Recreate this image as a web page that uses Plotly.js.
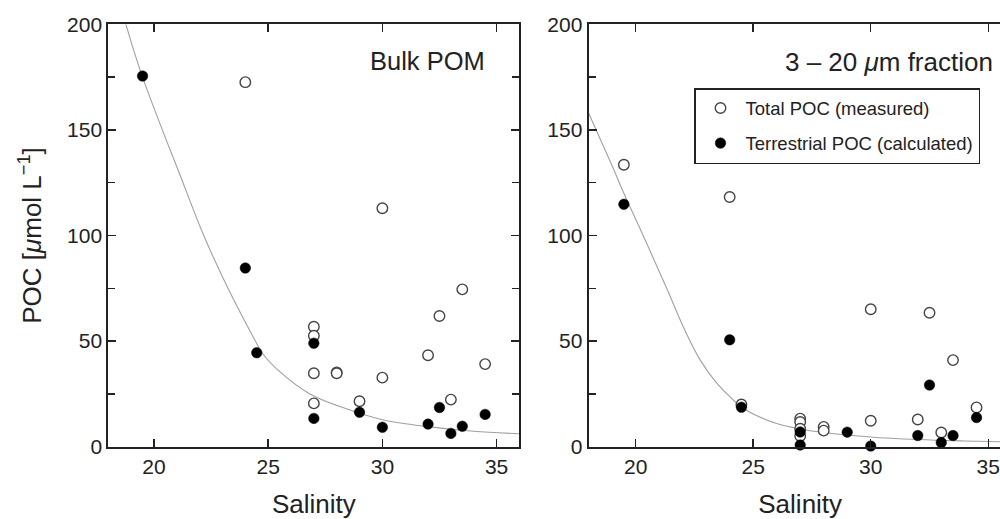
<!DOCTYPE html>
<html>
<head>
<meta charset="utf-8">
<script src="https://cdn.plot.ly/plotly-3.0.1.min.js"></script>
<style>
html,body{margin:0;padding:0;overflow:hidden;background:#fff;}
#chart{width:1014px;height:519px;}
</style>
</head>
<body>
<div id="chart"></div>
<script>
// ---- Data ----
// Left panel: Bulk POM
const bulkTotalSal = [24, 27, 27, 27, 27, 28, 28, 29, 30, 30, 32, 32.5, 33, 33.5, 34.5];
const bulkTotalPOC = [172.6, 56.8, 52.5, 34.8, 20.5, 35.2, 34.8, 21.5, 112.9, 32.7, 43.3, 61.9, 22.3, 74.5, 39.1];
const bulkTerrSal = [19.5, 24, 24.5, 27, 27, 29, 30, 32, 32.5, 33, 33.5, 34.5];
const bulkTerrPOC = [175.5, 84.6, 44.5, 49.0, 13.4, 16.3, 9.2, 10.7, 18.6, 6.3, 9.7, 15.3];
const bulkCurveSal = [18.77, 19.48, 21.27, 22.18, 23.24, 24.44, 24.72, 25.42, 26.83, 28.52, 30, 32, 34, 36];
const bulkCurvePOC = [200, 175.6, 125, 100, 75, 50, 44.6, 36.4, 25, 17.6, 12.8, 9.5, 7.3, 6.1];

// Right panel: 3 - 20 um fraction
const fracTotalSal = [19.5, 24, 24.5, 27, 27, 27, 27, 28, 28, 30, 30, 32, 32.5, 33, 33.5, 34.5];
const fracTotalPOC = [133.5, 118.2, 20.0, 13.3, 11.7, 8.5, 5.1, 9.4, 7.6, 65.1, 12.3, 12.9, 63.4, 6.7, 41.0, 18.6];
const fracTerrSal = [19.5, 24, 24.5, 27, 27, 29, 30, 32, 32.5, 33, 33.5, 34.5];
const fracTerrPOC = [114.8, 50.6, 18.7, 7.0, 0.8, 6.9, 0.3, 5.3, 29.2, 2.0, 5.3, 13.8];
const fracCurveSal = [18, 19, 19.5, 20.32, 21.32, 22.1, 22.75, 23.46, 24.17, 24.5, 25.3, 26.0, 27.0, 28.1, 30, 32, 34, 36];
const fracCurvePOC = [158, 133, 120, 100, 75, 55, 41, 30, 22, 18.8, 13.9, 11, 8.4, 6.6, 4.6, 3.4, 2.7, 2.2];

const xTickVals = [20, 25, 30, 35];
const yTickVals = [0, 50, 100, 150, 200];
const legendNames = ['Total POC (measured)', 'Terrestrial POC (calculated)'];
const panelTitles = ['Bulk POM', '3 \u2013 20 <i>\u03bc</i>m fraction'];

// ---- Layout geometry ----
const W = 1014, H = 519;
const FONT = 'Liberation Sans, Arial, Helvetica, sans-serif';
const yDom = [1 - 446.7 / H, 1 - 24.3 / H];

const curveStyle = {color: '#a0a0a0', width: 1.1, shape: 'spline', smoothing: 1};
const openMarker = {symbol: 'circle', size: 10.5, color: '#ffffff', line: {color: '#444', width: 1.4}};
const fillMarker = {symbol: 'circle', size: 10.5, color: '#000000', line: {color: '#000', width: 0.5}};

const traces = [
  {x: bulkCurveSal, y: bulkCurvePOC, xaxis: 'x', yaxis: 'y', mode: 'lines', line: curveStyle, showlegend: false, hoverinfo: 'skip'},
  {x: bulkTotalSal, y: bulkTotalPOC, xaxis: 'x', yaxis: 'y', mode: 'markers', marker: openMarker, name: legendNames[0], legendgroup: 'a', showlegend: false, cliponaxis: false},
  {x: bulkTerrSal, y: bulkTerrPOC, xaxis: 'x', yaxis: 'y', mode: 'markers', marker: fillMarker, name: legendNames[1], legendgroup: 'b', showlegend: false, cliponaxis: false},
  {x: fracCurveSal, y: fracCurvePOC, xaxis: 'x2', yaxis: 'y2', mode: 'lines', line: curveStyle, showlegend: false, hoverinfo: 'skip'},
  {x: fracTotalSal, y: fracTotalPOC, xaxis: 'x2', yaxis: 'y2', mode: 'markers', marker: openMarker, name: legendNames[0], legendgroup: 'a', showlegend: true, cliponaxis: false},
  {x: fracTerrSal, y: fracTerrPOC, xaxis: 'x2', yaxis: 'y2', mode: 'markers', marker: fillMarker, name: legendNames[1], legendgroup: 'b', showlegend: true, cliponaxis: false}
];

function xAxis(domain, anchor) {
  return {
    domain: domain, anchor: anchor, range: [18, 36],
    tickvals: xTickVals, ticktext: xTickVals.map(String),
    ticks: 'inside', ticklen: 8, tickwidth: 1.5, tickcolor: '#222',
    showline: true, linewidth: 2, linecolor: '#222', mirror: 'ticks',
    showgrid: false, zeroline: false,
    tickfont: {family: FONT, size: 21, color: '#222'},
    title: {text: 'Salinity', font: {family: FONT, size: 26, color: '#222'}, standoff: 27}
  };
}
function yAxis(anchor, withTitle) {
  const ax = {
    domain: yDom, anchor: anchor, range: [0, 200],
    tickvals: yTickVals, ticktext: yTickVals.map(String),
    ticks: 'inside', ticklen: 8, tickwidth: 1.5, tickcolor: '#222',
    minor: {dtick: 25, tick0: 0, ticks: 'inside', ticklen: 7, tickwidth: 1.5, tickcolor: '#222', showgrid: false},
    showline: true, linewidth: 2, linecolor: '#222', mirror: 'ticks',
    showgrid: false, zeroline: false,
    tickfont: {family: FONT, size: 21, color: '#222'}
  };
  if (withTitle) {
    ax.title = {text: 'POC [<i>\u03bc</i>mol L<sup>\u22121</sup>]', font: {family: FONT, size: 26, color: '#222'}, standoff: 18};
  }
  return ax;
}

const layout = {
  width: W, height: H,
  margin: {l: 0, r: 0, t: 0, b: 0, autoexpand: false},
  paper_bgcolor: '#fff', plot_bgcolor: '#fff',
  font: {family: FONT, color: '#222'},
  showlegend: true,
  xaxis: xAxis([108.3 / W, 519.4 / W], 'y'),
  yaxis: yAxis('x', true),
  xaxis2: xAxis([588.6 / W, 1011.8 / W], 'y2'),
  yaxis2: yAxis('x2', false),
  legend: {
    x: 694 / W, y: 1 - 88 / H, xanchor: 'left', yanchor: 'top',
    bordercolor: '#222', borderwidth: 1.5, bgcolor: '#fff',
    font: {family: FONT, size: 18.5, color: '#222'},
    traceorder: 'grouped', tracegroupgap: 8,
    itemwidth: 40
  },
  annotations: [
    {xref: 'paper', yref: 'paper', x: 487 / W, y: 1 - 61 / H, xanchor: 'right', yanchor: 'middle', showarrow: false,
     text: panelTitles[0], font: {family: FONT, size: 25.5, color: '#222'}},
    {xref: 'paper', yref: 'paper', x: 995 / W, y: 1 - 62 / H, xanchor: 'right', yanchor: 'middle', showarrow: false,
     text: panelTitles[1], font: {family: FONT, size: 26, color: '#222'}}
  ]
};

Plotly.newPlot('chart', traces, layout, {staticPlot: true, displayModeBar: false});
</script>
</body>
</html>
